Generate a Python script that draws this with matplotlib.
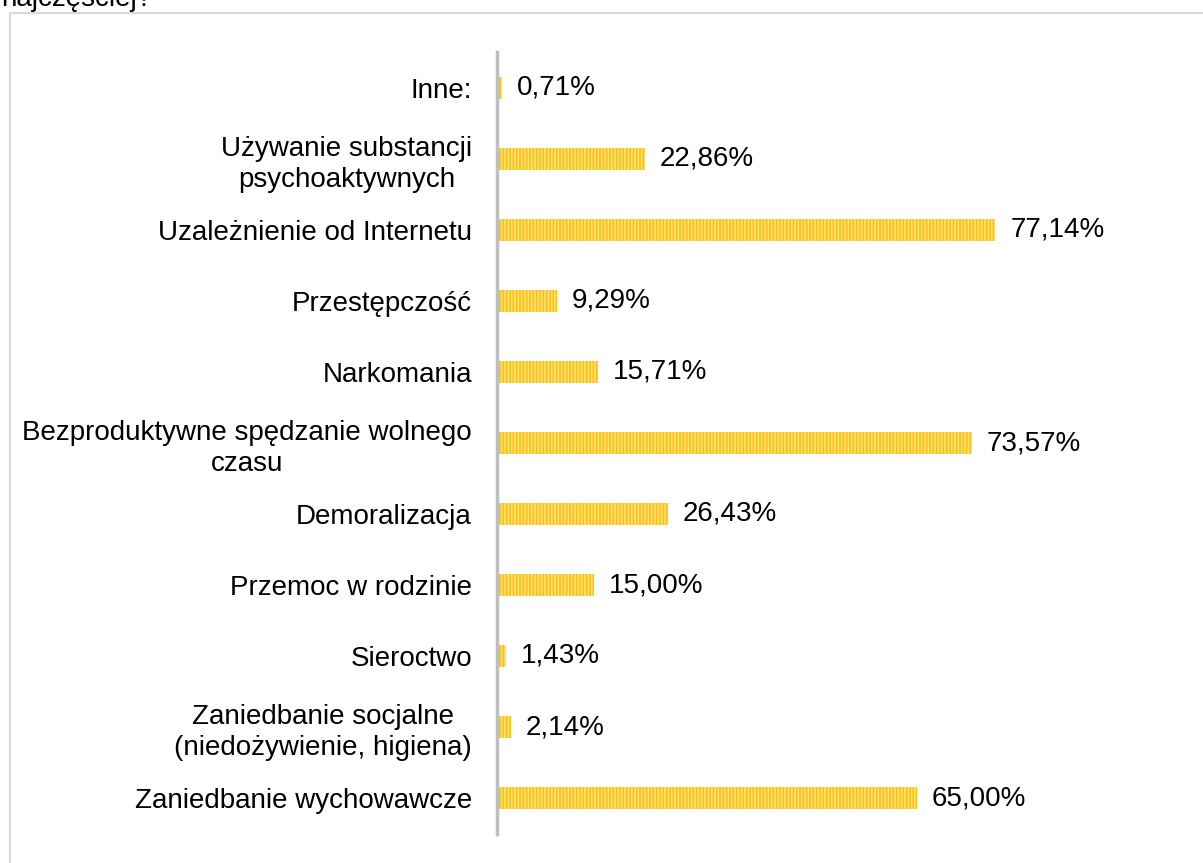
import matplotlib
matplotlib.use("Agg")
from matplotlib import pyplot as plt
from matplotlib.patches import Rectangle

# dane (od dołu do góry)
kategorie = [
    "Zaniedbanie wychowawcze",
    "Zaniedbanie socjalne\n(niedożywienie, higiena)",
    "Sieroctwo",
    "Przemoc w rodzinie",
    "Demoralizacja",
    "Bezproduktywne spędzanie wolnego\nczasu",
    "Narkomania",
    "Przestępczość",
    "Uzależnienie od Internetu",
    "Używanie substancji\npsychoaktywnych",
    "Inne:",
]
wartosci = [65.00, 2.14, 1.43, 15.00, 26.43, 73.57, 15.71, 9.29, 77.14, 22.86, 0.71]

plt.rcParams['font.family'] = ['Liberation Sans', 'DejaVu Sans']
plt.rcParams['hatch.linewidth'] = 1.2

W, H = 1203, 863
fig = plt.figure(figsize=(W / 100, H / 100), dpi=100)

# ramka wykresu i ucięty tytuł
fig.patches.append(Rectangle((10 / W, -0.1), 1.1, (H - 13) / H + 0.1, transform=fig.transFigure,
                             fill=False, edgecolor='#D9D9D9', linewidth=1.5))
fig.text(1 / W, 1 - 6 / H, "najczęściej?", fontsize=20, va='baseline', ha='left', color='black')

ax = fig.add_axes([497 / W, 29.5 / H, 646 / W, 781 / H])
y = list(range(len(kategorie)))
ax.barh(y, wartosci, height=0.32, color='#FFC000', edgecolor='#FFE28A', linewidth=0, hatch='|||||')

for yi, v in zip(y, wartosci):
    ax.text(v + 2.3, yi, f"{v:.2f}%".replace('.', ','), va='center', ha='left', fontsize=20)

ax.set_xlim(0, 100)
ax.set_ylim(-0.5, len(kategorie) - 0.5)
ax.set_yticks(y)
ax.set_yticklabels(kategorie, fontsize=20, multialignment='center', linespacing=1.25)
ax.tick_params(axis='y', length=0, pad=18)
ax.set_xticks([])
for s in ['top', 'right', 'bottom']:
    ax.spines[s].set_visible(False)
ax.spines['left'].set_color('#BFBFBF')
ax.spines['left'].set_linewidth(2.5)

fig.savefig("out.png", dpi=100)
